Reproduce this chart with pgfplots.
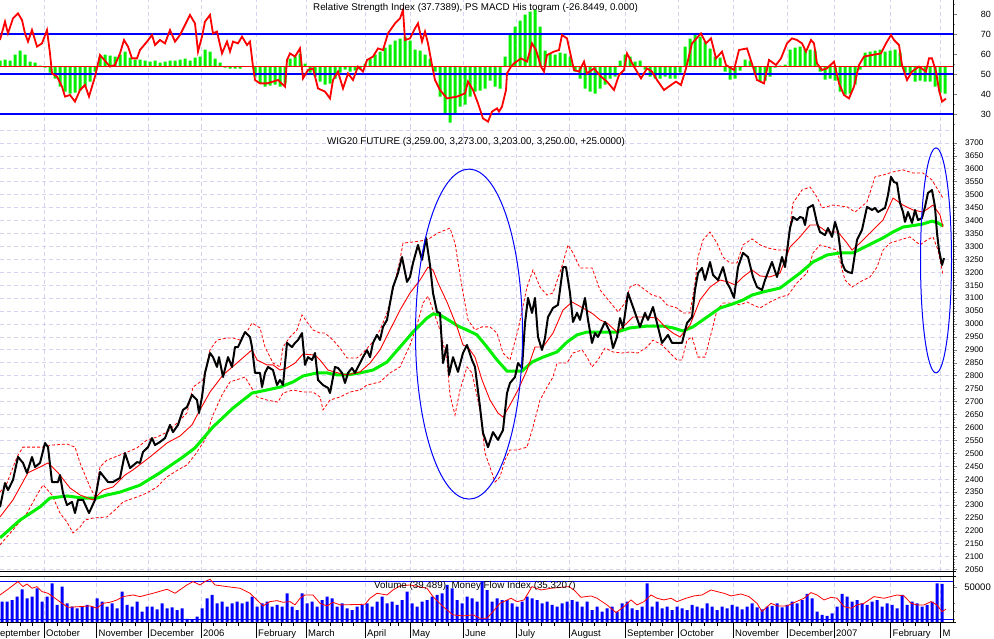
\documentclass[border=0pt]{standalone}
\usepackage{pgfplots}
\pgfplotsset{compat=1.18}
\usepackage{fontspec}
\setmainfont{Liberation Sans}
\definecolor{gridc}{RGB}{212,212,240}
\definecolor{mgreen}{RGB}{0,240,0}
\definecolor{mred}{RGB}{255,0,0}
\definecolor{lineblue}{RGB}{0,0,255}
\pgfplotsset{
  panel/.style={scale only axis, width=953pt, xmin=0, xmax=953, axis line style={draw=none}, anchor=south west, clip=true},
  gridpanel/.style={panel, tick style={draw=none}, xtick={44.3,96.7,148.3,201,256,306,365,410,463.3,516,569,625,678.3,733.3,787.3,834.7,890.7,940.7}, xticklabel=\empty, yticklabel=\empty, xmajorgrids=true, major grid style={draw=gridc, dash pattern=on 4pt off 3pt, line width=0.8pt}},
  tickpanel/.style={panel, xtick=\empty, ytick pos=right, yticklabel pos=right, tick align=outside, major tick length=3.5pt, minor tick length=2pt, tick style={line width=0.6pt}, /pgf/number format/assume math mode=true, /pgf/number format/set thousands separator={}, yticklabel style={inner sep=0pt}},
}
\begin{document}
\begin{tikzpicture}[x=1pt,y=1pt]
\useasboundingbox (0,0) rectangle (994,638);
% ---------- top panel: MACD histogram (units: histogram value) ----------
\begin{axis}[gridpanel, at={(0pt,510pt)}, height=128pt, ymin=-61.3, ymax=66.7, ytick=\empty]
\addplot[ybar, bar width=3pt, fill=mgreen, draw=none] coordinates {
(0,6)(5,7)(10,6)(15,12)(20,16)(25,12)(30,5)(35,4)(40,1)(45,-1)(50,-6)(55,-12)(60,-20)(65,-25)(70,-27)(75,-26)(80,-24)(85,-20)(90,-15)(95,-5)(100,10)(105,12)(110,11)(115,10)(120,12)(125,15)(130,9)(135,7)(140,7)(145,6)(150,5)(155,6)(160,4)(165,5)(170,6)(175,6)(180,7)(185,8)(190,6)(195,9)(200,10)(205,17)(210,15)(215,8)(220,4)(225,-1)(230,-2)(235,-2)(240,-2)(245,0)(250,0)(255,-10)(260,-17)(265,-20)(270,-19)(275,-18)(280,-20)(285,-17)(290,8)(295,10)(300,13)(305,3)(310,-6)(315,-10)(320,-15)(325,-18)(330,-17)(335,-12)(340,-6)(345,-3)(350,-5)(355,-4)(360,-3)(365,3)(370,8)(375,12)(380,15)(385,19)(390,22)(395,26)(400,28)(405,30)(410,26)(415,17)(420,16)(425,12)(430,8)(435,-5)(440,-30)(445,-48)(450,-56)(455,-48)(460,-40)(465,-38)(470,-30)(475,-25)(480,-24)(485,-22)(490,-14)(495,-20)(500,-22)(505,10)(510,33)(515,40)(520,46)(525,52)(530,55)(535,57)(540,40)(545,16)(550,13)(555,12)(560,14)(565,13)(570,10)(575,-5)(580,-12)(585,-22)(590,-25)(595,-27)(600,-22)(605,-18)(610,-12)(615,-10)(620,6)(625,12)(630,10)(635,5)(640,6)(645,-3)(650,-10)(655,-12)(660,-12)(665,-10)
(670,-12)(675,-12)(680,-6)(685,20)(690,28)(695,33)(700,30)(705,25)(710,18)(715,10)(720,9)(725,-5)(730,-13)(735,-12)(740,-4)(745,7)(750,6)(755,-8)(760,-15)(765,-14)(770,-10)(775,-1)(780,1)(785,2)(790,17)(795,19)(800,20)(805,18)(810,17)(815,16)(820,-5)(825,-13)(830,-12)(835,-14)(840,-25)(845,-28)(850,-27)(855,-18)(860,-3)(865,14)(870,15)(875,16)(880,17)(885,15)(890,16)(895,17)(900,14)(905,-6)(910,-8)(915,-15)(920,-14)(925,-15)(930,-15)(935,-20)(940,-26)(945,-27)};
\addplot[mred, line width=1.3pt] coordinates {(0,0) (953,0)};
% RSI 30, 50, 70 levels (in histogram units: -47.3, -7.3, 32.7)
\addplot[draw=lineblue, line width=1.1pt] coordinates {(0,-47.3) (953,-47.3)};
\addplot[draw=lineblue, line width=1.1pt] coordinates {(0,-7.3) (953,-7.3)};
\addplot[draw=lineblue, line width=1.1pt] coordinates {(0,32.7) (953,32.7)};
\end{axis}
% ---------- top panel: RSI ----------
\begin{axis}[tickpanel, at={(0pt,510pt)}, height=128pt, ymin=23, ymax=87, ytick={30,40,50,60,70,80}, minor ytick={25,35,45,55,65,75,85}, yticklabel style={font=\fontsize{9}{10}\selectfont, anchor=east, xshift=34.5pt}]
\addplot[mred, line width=1.8pt] coordinates {
(0,67)(5,76.2)(8,70.3)(13,77.8)(18,80.3)(22,77)(25,70.3)(28,66.2)(32,72)(35,67)(37,63.7)(42,65.3)(47,72)(50,60.3)(52,50.3)(57,48.7)(62,43.7)(65,38.7)(70,39.5)(75,36.2)(80,42)(85,44.5)(89,38.7)(95,48.7)(100,59.5)(110,53.7)(115,54.5)(120,60.3)(124,67)(128,63.7)(132,57.8)(137,57.8)(140,62)(147,66.2)(152,69.5)(155,64.5)(160,67)(165,65.3)(170,72)(175,66.2)(180,69.5)(185,74.5)(190,79.5)(195,75.3)(198,61.2)(202,68.7)(205,76.2)(210,79.5)(213,70.3)(217,71.2)(222,60.3)(227,66.2)(230,61.2)(233,66.2)(238,65.3)(242,68.7)(247,64.5)(250,66.2)(253,53.7)(255,47)(260,45.3)(267,45.3)(273,46.2)(278,47)(285,43.7)(287,57)(290,60.3)(295,58.7)(300,62.8)(303,47.8)(308,52)(313,52.8)(318,42.8)(325,41.2)(330,37.8)(333,47)(338,51.2)(343,42.8)(348,50.3)(353,47)(358,53.7)(363,51.2)(367,57)(373,58.7)(378,62.8)(383,62)(388,70.3)(395,75.3)(400,77.8)(403,82)(405,67)(410,67.8)(415,72.8)(418,75.3)(422,66.2)(425,71.2)(428,65.3)(432,54.5)(435,47)(440,42)(447,37.8)(457,38.7)(465,40.3)(468,46.2)(473,42)(478,35.3)(483,27.8)(488,26.2)(492,31.2)(497,32.8)(499,31.2)(502,33.7)(506,42)(507,50.3)(511,53.7)(514,55.3)(521,57.8)(527,56.2)(532,65.3)(536,62)(541,53.7)(544,51.2)(547,59.5)(554,61.2)(559,62)(562,69.5)(567,67.8)(571,58.7)(574,52)(579,51.2)(584,56.2)(587,50.3)(594,52.8)(601,48.7)(607,46.2)(614,42)(619,49.5)(624,52)(627,60.3)(634,53.7)(641,47.8)(647,52.8)(652,51.2)(657,47)(664,42)(671,44.5)(676,46.2)(681,44.5)(686,52.8)(692,65.3)(701,70.3)(706,65.3)(711,67.8)(716,57.8)(722,61.2)(726,54.5)(734,52)(739,62)(747,62.8)(754,52)(757,47)(764,45.3)(769,57)(776,54.5)(781,57.8)(787,65.3)(792,67.8)(797,67)(802,65.3)(806,61.2)(811,67)(814,65.3)(817,55.3)(822,52)(827,52.8)(834,56.2)(839,45.3)(844,39.5)(849,37.8)(854,43.7)(859,54.5)(864,58.7)(872,59.5)(881,60.3)(886,65.3)(891,69.5)(894,67)(899,64.5)(902,54.5)(907,47)(912,51.2)(919,53.7)(926,51.2)(929,57.8)(932,57.8)(936,51.2)(939,42)(942,36.2)(946,37.7)};
\end{axis}
% ---------- main panel ----------
\begin{axis}[gridpanel, at={(0pt,67pt)}, height=443pt, ymin=2045, ymax=3758, ytick={2050,2100,...,3750}, ymajorgrids=true]
% lower band
\addplot[mred, line width=0.8pt, dash pattern=on 3pt off 2pt] coordinates {
(0,2146)(13,2204)(27,2269)(37,2339)(43,2378)(52,2339)(60,2269)(67,2234)(73,2192)(80,2215)(85,2242)(93,2250)(107,2254)(115,2281)(123,2312)(137,2331)(147,2347)(157,2370)(167,2409)(178,2436)(187,2455)(195,2494)(205,2552)(213,2648)(222,2726)(230,2776)(245,2795)(257,2718)(267,2706)(278,2698)(283,2733)(293,2745)(303,2737)(313,2737)(320,2718)(323,2668)(330,2706)(340,2718)(350,2737)(360,2745)(367,2764)(380,2776)(390,2811)(400,2834)(410,2919)(417,2996)(423,3081)(428,3108)(433,3054)(440,2977)(447,2861)(450,2725)(455,2648)(460,2745)(467,2834)(472,2811)(480,2668)(485,2501)(492,2424)(495,2389)(500,2409)(505,2474)(510,2513)(517,2513)(527,2524)(533,2602)(540,2706)(547,2756)(553,2795)(557,2849)(567,2849)(573,2888)(582,2900)(587,2872)(592,2834)(598,2861)(605,2907)(613,2892)(622,2888)(630,2892)(638,2888)(647,2911)(653,2938)(662,2919)(670,2888)(677,2861)(682,2861)(687,2938)(692,2950)(698,2872)(705,2872)(712,2977)(717,3054)(723,3081)(733,3081)(740,3074)(747,3085)(753,3074)(760,3062)(770,3085)(780,3104)(788,3112)(797,3159)(807,3197)(813,3275)(820,3306)(827,3298)(837,3286)(845,3170)(852,3143)(860,3163)(870,3182)(877,3220)(883,3286)(890,3313)(900,3325)(910,3337)(920,3306)(927,3325)(933,3337)(938,3286)(943,3190)};
% upper band
\addplot[mred, line width=0.8pt, dash pattern=on 3pt off 2pt] coordinates {
(0,2350)(7,2385)(17,2486)(23,2524)(33,2524)(43,2524)(52,2532)(67,2536)(75,2524)(80,2463)(90,2370)(95,2331)(100,2447)(107,2474)(115,2486)(125,2501)(137,2521)(147,2552)(157,2563)(167,2582)(177,2617)(187,2656)(193,2756)(203,2784)(210,2900)(217,2938)(227,2946)(233,2946)(240,2938)(248,2977)(252,3004)(260,2985)(265,2911)(273,2849)(280,2834)(283,2911)(290,2950)(297,2977)(302,3035)(307,3008)(313,2977)(320,2965)(325,2965)(333,2938)(340,2907)(347,2869)(357,2869)(363,2888)(372,2927)(380,2977)(387,3043)(393,3132)(400,3248)(403,3313)(413,3317)(427,3325)(438,3352)(450,3371)(455,3313)(462,3143)(468,3016)(475,2977)(482,2989)(490,2989)(497,2965)(503,2888)(510,2861)(518,2977)(527,3143)(533,3209)(540,3143)(547,3112)(553,3120)(563,3236)(568,3306)(573,3275)(580,3217)(592,3217)(600,3132)(610,3085)(618,3047)(625,3081)(630,3143)(637,3155)(645,3132)(652,3112)(660,3104)(667,3074)(677,3062)(683,3043)(690,3043)(695,3159)(698,3259)(703,3325)(710,3356)(717,3313)(723,3259)(730,3236)(737,3236)(743,3306)(752,3329)(760,3306)(768,3294)(778,3286)(787,3286)(793,3468)(802,3518)(810,3530)(817,3491)(822,3449)(833,3460)(847,3453)(855,3433)(867,3472)(875,3569)(883,3576)(893,3588)(903,3596)(913,3584)(923,3584)(932,3557)(938,3518)(943,3487)};
% green MA
\addplot[mgreen, line width=3pt] coordinates {
(0,2173)(20,2242)(40,2293)(50,2327)(67,2335)(83,2327)(97,2327)(107,2339)(120,2350)(140,2377)(160,2425)(183,2486)(195,2521)(213,2602)(233,2675)(252,2733)(267,2745)(280,2756)(293,2776)(303,2799)(317,2811)(327,2811)(337,2803)(347,2803)(360,2811)(373,2822)(387,2853)(400,2911)(413,2969)(427,3023)(433,3039)(440,3035)(450,3012)(458,2992)(467,2977)(477,2958)(487,2911)(497,2861)(507,2818)(522,2818)(532,2853)(543,2872)(557,2892)(567,2930)(577,2958)(587,2969)(600,2969)(617,2969)(630,2985)(647,2992)(663,2992)(673,2985)(683,2973)(693,2989)(707,3027)(720,3062)(733,3078)(743,3093)(752,3112)(763,3124)(780,3139)(787,3159)(800,3197)(813,3240)(827,3267)(840,3275)(853,3275)(867,3302)(883,3333)(893,3356)(903,3375)(917,3383)(923,3387)(932,3398)(938,3391)(943,3379)};
% red MA
\addplot[mred, line width=0.9pt] coordinates {
(0,2254)(13,2320)(28,2425)(40,2447)(48,2463)(58,2425)(70,2366)(80,2339)(93,2320)(103,2358)(113,2370)(125,2416)(133,2436)(150,2486)(167,2540)(180,2567)(192,2610)(200,2668)(210,2737)(223,2803)(238,2853)(252,2900)(257,2861)(267,2842)(273,2842)(280,2822)(287,2830)(295,2849)(303,2884)(315,2880)(320,2861)(328,2822)(338,2811)(347,2803)(360,2815)(370,2849)(380,2900)(390,2977)(400,3054)(410,3120)(420,3170)(428,3220)(433,3209)(438,3159)(447,3085)(457,2989)(463,2919)(468,2911)(475,2872)(482,2784)(490,2706)(498,2656)(503,2640)(510,2687)(518,2745)(527,2822)(535,2911)(543,2911)(553,2965)(563,3054)(572,3085)(583,3062)(593,3039)(600,3016)(607,3004)(617,2969)(627,3004)(633,3027)(647,3027)(657,3023)(665,2989)(673,2965)(680,2950)(690,2996)(700,3093)(710,3143)(720,3170)(728,3163)(735,3151)(743,3182)(752,3209)(760,3186)(770,3182)(780,3197)(790,3298)(800,3337)(810,3383)(817,3383)(827,3356)(838,3356)(847,3313)(852,3286)(860,3313)(870,3352)(883,3402)(893,3487)(903,3460)(913,3441)(923,3433)(933,3460)(940,3422)(943,3375)};
% price
\addplot[black, line width=2pt, line join=round] coordinates {
(0,2292)(5,2385)(8,2358)(13,2397)(18,2486)(23,2463)(27,2424)(32,2486)(35,2447)(40,2463)(45,2540)(48,2524)(52,2389)(58,2389)(60,2416)(63,2347)(67,2300)(72,2312)(75,2269)(78,2320)(83,2320)(89,2269)(95,2320)(100,2428)(108,2389)(113,2389)(120,2405)(125,2501)(130,2443)(137,2466)(140,2463)(143,2505)(148,2524)(152,2559)(155,2532)(160,2544)(165,2559)(170,2610)(173,2582)(178,2610)(183,2668)(187,2679)(192,2726)(197,2706)(199,2656)(202,2718)(205,2811)(210,2888)(213,2872)(217,2834)(219,2872)(223,2795)(228,2872)(232,2834)(235,2911)(238,2911)(245,2969)(250,2950)(252,2911)(255,2811)(260,2811)(262,2756)(265,2811)(268,2834)(273,2822)(277,2764)(280,2784)(283,2764)(287,2927)(292,2911)(295,2927)(298,2938)(302,2965)(305,2842)(308,2872)(312,2861)(315,2888)(318,2784)(323,2764)(328,2753)(330,2733)(335,2834)(338,2830)(342,2811)(345,2772)(348,2811)(352,2830)(355,2811)(358,2834)(363,2872)(367,2899)(370,2872)(373,2927)(377,2958)(380,2938)(383,2989)(387,3016)(390,3081)(393,3143)(398,3197)(402,3259)(407,3163)(410,3182)(413,3236)(418,3306)(422,3248)(426,3333)(430,3228)(433,3120)(437,3047)(440,3043)(443,2849)(447,2919)(449,2803)(453,2872)(458,2815)(463,2888)(467,2919)(472,2861)(475,2834)(480,2679)(483,2579)(488,2524)(493,2582)(498,2552)(503,2590)(507,2733)(510,2772)(515,2795)(518,2849)(522,2830)(525,3004)(528,3101)(532,3043)(535,3101)(538,2950)(542,2900)(545,2946)(548,3027)(553,3062)(558,3074)(563,3220)(566,3220)(570,3120)(573,3008)(577,3043)(580,3016)(585,3101)(588,3016)(592,2927)(595,2965)(598,2950)(605,3008)(610,2969)(613,2907)(617,2950)(620,3023)(623,2985)(628,3120)(633,3066)(640,2989)(645,3043)(648,3016)(653,3066)(657,3004)(662,2927)(668,2958)(672,2927)(677,2927)(682,2927)(687,3004)(692,3027)(695,3132)(698,3197)(702,3217)(705,3170)(710,3240)(713,3190)(718,3170)(723,3220)(727,3159)(730,3139)(734,3101)(738,3220)(743,3275)(748,3259)(753,3182)(757,3143)(762,3132)(765,3170)(772,3240)(777,3182)(782,3259)(785,3220)(790,3371)(793,3414)(797,3402)(800,3414)(803,3410)(805,3383)(808,3449)(813,3460)(817,3391)(820,3356)(825,3344)(828,3371)(832,3337)(835,3395)(838,3356)(842,3236)(845,3209)(848,3201)(852,3197)(857,3325)(862,3364)(867,3453)(872,3441)(875,3449)(878,3433)(885,3449)(888,3499)(891,3569)(894,3549)(897,3545)(900,3468)(903,3433)(905,3395)(908,3433)(912,3391)(915,3441)(918,3402)(922,3410)(925,3453)(928,3507)(932,3518)(935,3453)(937,3352)(939,3286)(942,3228)(944,3255)};
\draw[lineblue, line width=1pt] (axis cs:469,2961) ellipse [x radius=53.5, y radius=638];
\draw[lineblue, line width=1pt] (axis cs:936,3246) ellipse [x radius=15.5, y radius=435];
\end{axis}
\begin{axis}[tickpanel, at={(0pt,67pt)}, height=443pt, ymin=2045, ymax=3758, ytick={2050,2100,...,3700}, minor tick num=4, yticklabel style={font=\fontsize{8.2}{9}\selectfont, anchor=west, xshift=8.5pt}]
\addplot[draw=none] coordinates {(0,3000)};
\end{axis}
% ---------- volume panel ----------
\begin{axis}[gridpanel, at={(0pt,16pt)}, height=46pt, ymin=0, ymax=65700, ytick=\empty]
\addplot[ybar, bar width=3pt, fill=lineblue, draw=none] coordinates {
(2,29000)(7,29000)(12,31400)(17,36200)(22,46700)(27,33800)(32,36200)(37,48100)(42,29000)(47,36200)(52,55200)(57,24300)(62,50500)(67,26700)(72,21900)(77,19500)(82,21900)(87,24300)(92,21900)(97,33800)(102,29000)(107,21900)(112,26700)(117,19500)(122,43300)(127,24300)(132,21900)(137,29000)(142,14800)(147,21900)(152,21900)(157,18100)(162,26700)(167,19500)(172,21000)(177,17100)(182,19500)(187,4300)(192,3800)(197,7600)(202,19500)(207,33800)(212,38600)(217,26700)(222,29000)(227,21900)(232,26700)(237,29000)(242,26700)(247,29000)(252,36200)(257,21900)(262,26700)(267,29000)(272,21900)(277,24300)(282,21900)(287,41000)(292,21900)(297,17100)(302,41000)(307,26700)(312,29000)(317,21900)(322,31400)(327,36200)(332,33800)(337,21900)(342,26700)(347,19500)(352,17100)(357,21900)(362,24300)(367,26700)(372,21900)(377,29000)(382,36200)(387,26700)(392,29000)(397,24300)(402,31400)(407,43300)(412,26700)(417,21900)(422,29000)(427,31400)(432,36200)(437,38600)(442,41000)(447,52900)(452,48100)(457,31400)(462,26700)(467,36200)(472,33800)(477,29000)(482,57600)(487,45700)(492,29000)
(497,33800)(502,31400)(507,31400)(512,26700)(517,21900)(522,29000)(527,36200)(532,33800)(537,31400)(542,26700)(547,29000)(552,24300)(557,21900)(562,26700)(567,29000)(572,31400)(577,29000)(582,21900)(587,29000)(592,17100)(597,21900)(602,14800)(607,19500)(612,21900)(617,14800)(622,26700)(627,29000)(632,19500)(637,17100)(642,21900)(647,55200)(652,21900)(657,29000)(662,19500)(667,21900)(672,17100)(677,21900)(682,19500)(687,17100)(692,24300)(697,21900)(702,19500)(707,26700)(712,21900)(717,17100)(722,21900)(727,19500)(732,24300)(737,21900)(742,18100)(747,21900)(752,26700)(757,21000)(762,18100)(767,21900)(772,22900)(777,26700)(782,21000)(787,24300)(792,29000)(797,26700)(802,31400)(807,40000)(812,33800)(817,14800)(822,10000)(827,8600)(832,12400)(837,21900)(842,40000)(847,36200)(852,29000)(857,31400)(862,26700)(867,24300)(872,29000)(877,31400)(882,21900)(887,26700)(892,24300)(897,19500)(902,38600)(907,24300)(912,29000)(917,26700)(922,21900)(927,24300)(932,29000)(937,55200)(942,54300)};
% MFI 80 and 20 levels (in volume units)
\addplot[draw=lineblue, line width=1.1pt] coordinates {(0,58130) (953,58130)};
\addplot[draw=lineblue, line width=0.9pt] coordinates {(0,4290) (953,4290)};
\end{axis}
\begin{axis}[tickpanel, at={(0pt,16pt)}, height=46pt, ymin=15.2, ymax=88.4, ytick={70.9}, yticklabels={50000}, minor ytick={74.1,45.5,32.7,20}, yticklabel style={font=\fontsize{9.5}{10}\selectfont, anchor=east, xshift=34.5pt}]
\addplot[mred, line width=0.8pt] coordinates {
(0,58.2)(7,66.2)(18,79.5)(23,71.5)(27,75.7)(32,68.9)(37,71.5)(42,63.6)(48,60.9)(55,53)(62,45)(68,38.6)(80,39.7)(90,40.8)(97,37.1)(103,45)(110,46.6)(117,50.3)(123,55.6)(133,58.2)(140,55.6)(153,60.9)(167,67.3)(175,60.9)(187,74.2)(193,79.5)(200,74.2)(205,79.5)(210,83.2)(215,74.2)(227,71.5)(240,68.9)(250,60.9)(257,50.3)(263,40.8)(270,47.6)(277,49.2)(283,46.6)(290,47.6)(295,42.4)(300,53)(305,58.2)(313,58.2)(320,45)(327,40.8)(333,46.6)(340,42.4)(365,43.4)(370,53)(377,60.9)(387,58.2)(393,66.2)(400,72.6)(410,74.2)(427,68.9)(433,55.6)(443,39.7)(453,26.5)(463,24.9)(473,26.5)(480,21.2)(487,21.2)(493,31.8)(500,45)(511,53)(517,47.6)(524,50.3)(527,58.2)(532,71.5)(541,66.2)(551,68.9)(561,70.4)(569,71.5)(574,66.2)(581,54.5)(591,56.7)(597,53)(607,42.4)(616,30.2)(624,39.7)(631,50.3)(637,42.4)(644,47.6)(651,58.2)(657,53)(664,50.3)(671,53)(677,47.6)(686,53)(694,56.7)(702,58.2)(711,66.2)(717,63.6)(724,60.9)(731,56.7)(741,59.8)(749,55.6)(757,45)(762,31.8)(771,45)(777,40.8)(787,40.8)(794,46)(804,53)(811,62)(817,58.2)(824,50.3)(831,54.5)(837,53)(844,39.7)(851,37.1)(857,42.4)(864,45)(874,55.6)(884,53)(897,58.2)(904,56.7)(911,45)(917,42.4)(924,42.4)(931,47.6)(937,42.4)(942,31.8)(946,35.5)};
\end{axis}
% ---------- frame lines, titles, month labels ----------
\draw[black, line width=0.9pt] (953,16) -- (953,638);
\draw[black, line width=0.9pt] (0,67) -- (956,67);
\draw[black, line width=0.9pt] (0,62) -- (956,62);
\draw[black, line width=0.9pt] (0,16) -- (956,16);
\node[anchor=base west, inner sep=0pt, font=\fontsize{9.8}{11}\selectfont] at (313,627) {Relative Strength Index (37.7389), PS MACD His togram (-26.8449, 0.000)};
\node[anchor=base west, inner sep=0pt, font=\fontsize{9.8}{11}\selectfont] at (327,493.5) {WIG20 FUTURE (3,259.00, 3,273.00, 3,203.00, 3,250.00, +25.0000)};
\node[anchor=base west, inner sep=0pt, font=\fontsize{9.8}{11}\selectfont] at (374,50) {Volume (39,489), Money Flow Index (35.3207)};
\foreach \x in {44.3,96.7,148.3,201,256,306,365,410,463.3,516,569,625,678.3,733.3,787.3,834.7,890.7,940.7}
  \draw[black, line width=0.8pt] (\x,16) -- (\x,0);
\foreach \x in {7,20,32,57,69,82,110,122,135,160,172,185,213,226,238,268,281,293,318,330,342,353,378,390,398,422,435,448,476,488,500,528,541,554,582,594,606,637,650,662,691,704,717,746,758,770,799,811,823,847,860,872,903,915,928}
  \draw[black, line width=0.8pt] (\x,16) -- (\x,12.5);
\begin{scope}[font=\fontsize{9.5}{11}\selectfont]
\node[anchor=base west, inner sep=0pt] at (-6.5,1.5) {September};
\node[anchor=base west, inner sep=0pt] at (46,1.5) {October};
\node[anchor=base west, inner sep=0pt] at (98.5,1.5) {November};
\node[anchor=base west, inner sep=0pt] at (150,1.5) {December};
\node[anchor=base west, inner sep=0pt] at (203,1.5) {2006};
\node[anchor=base west, inner sep=0pt] at (258,1.5) {February};
\node[anchor=base west, inner sep=0pt] at (308,1.5) {March};
\node[anchor=base west, inner sep=0pt] at (367,1.5) {April};
\node[anchor=base west, inner sep=0pt] at (412,1.5) {May};
\node[anchor=base west, inner sep=0pt] at (465,1.5) {June};
\node[anchor=base west, inner sep=0pt] at (518,1.5) {July};
\node[anchor=base west, inner sep=0pt] at (571,1.5) {August};
\node[anchor=base west, inner sep=0pt] at (627,1.5) {September};
\node[anchor=base west, inner sep=0pt] at (680,1.5) {October};
\node[anchor=base west, inner sep=0pt] at (735,1.5) {November};
\node[anchor=base west, inner sep=0pt] at (789,1.5) {December};
\node[anchor=base west, inner sep=0pt] at (836,1.5) {2007};
\node[anchor=base west, inner sep=0pt] at (892.5,1.5) {February};
\node[anchor=base west, inner sep=0pt] at (942.5,1.5) {M};
\end{scope}
\end{tikzpicture}
\end{document}
